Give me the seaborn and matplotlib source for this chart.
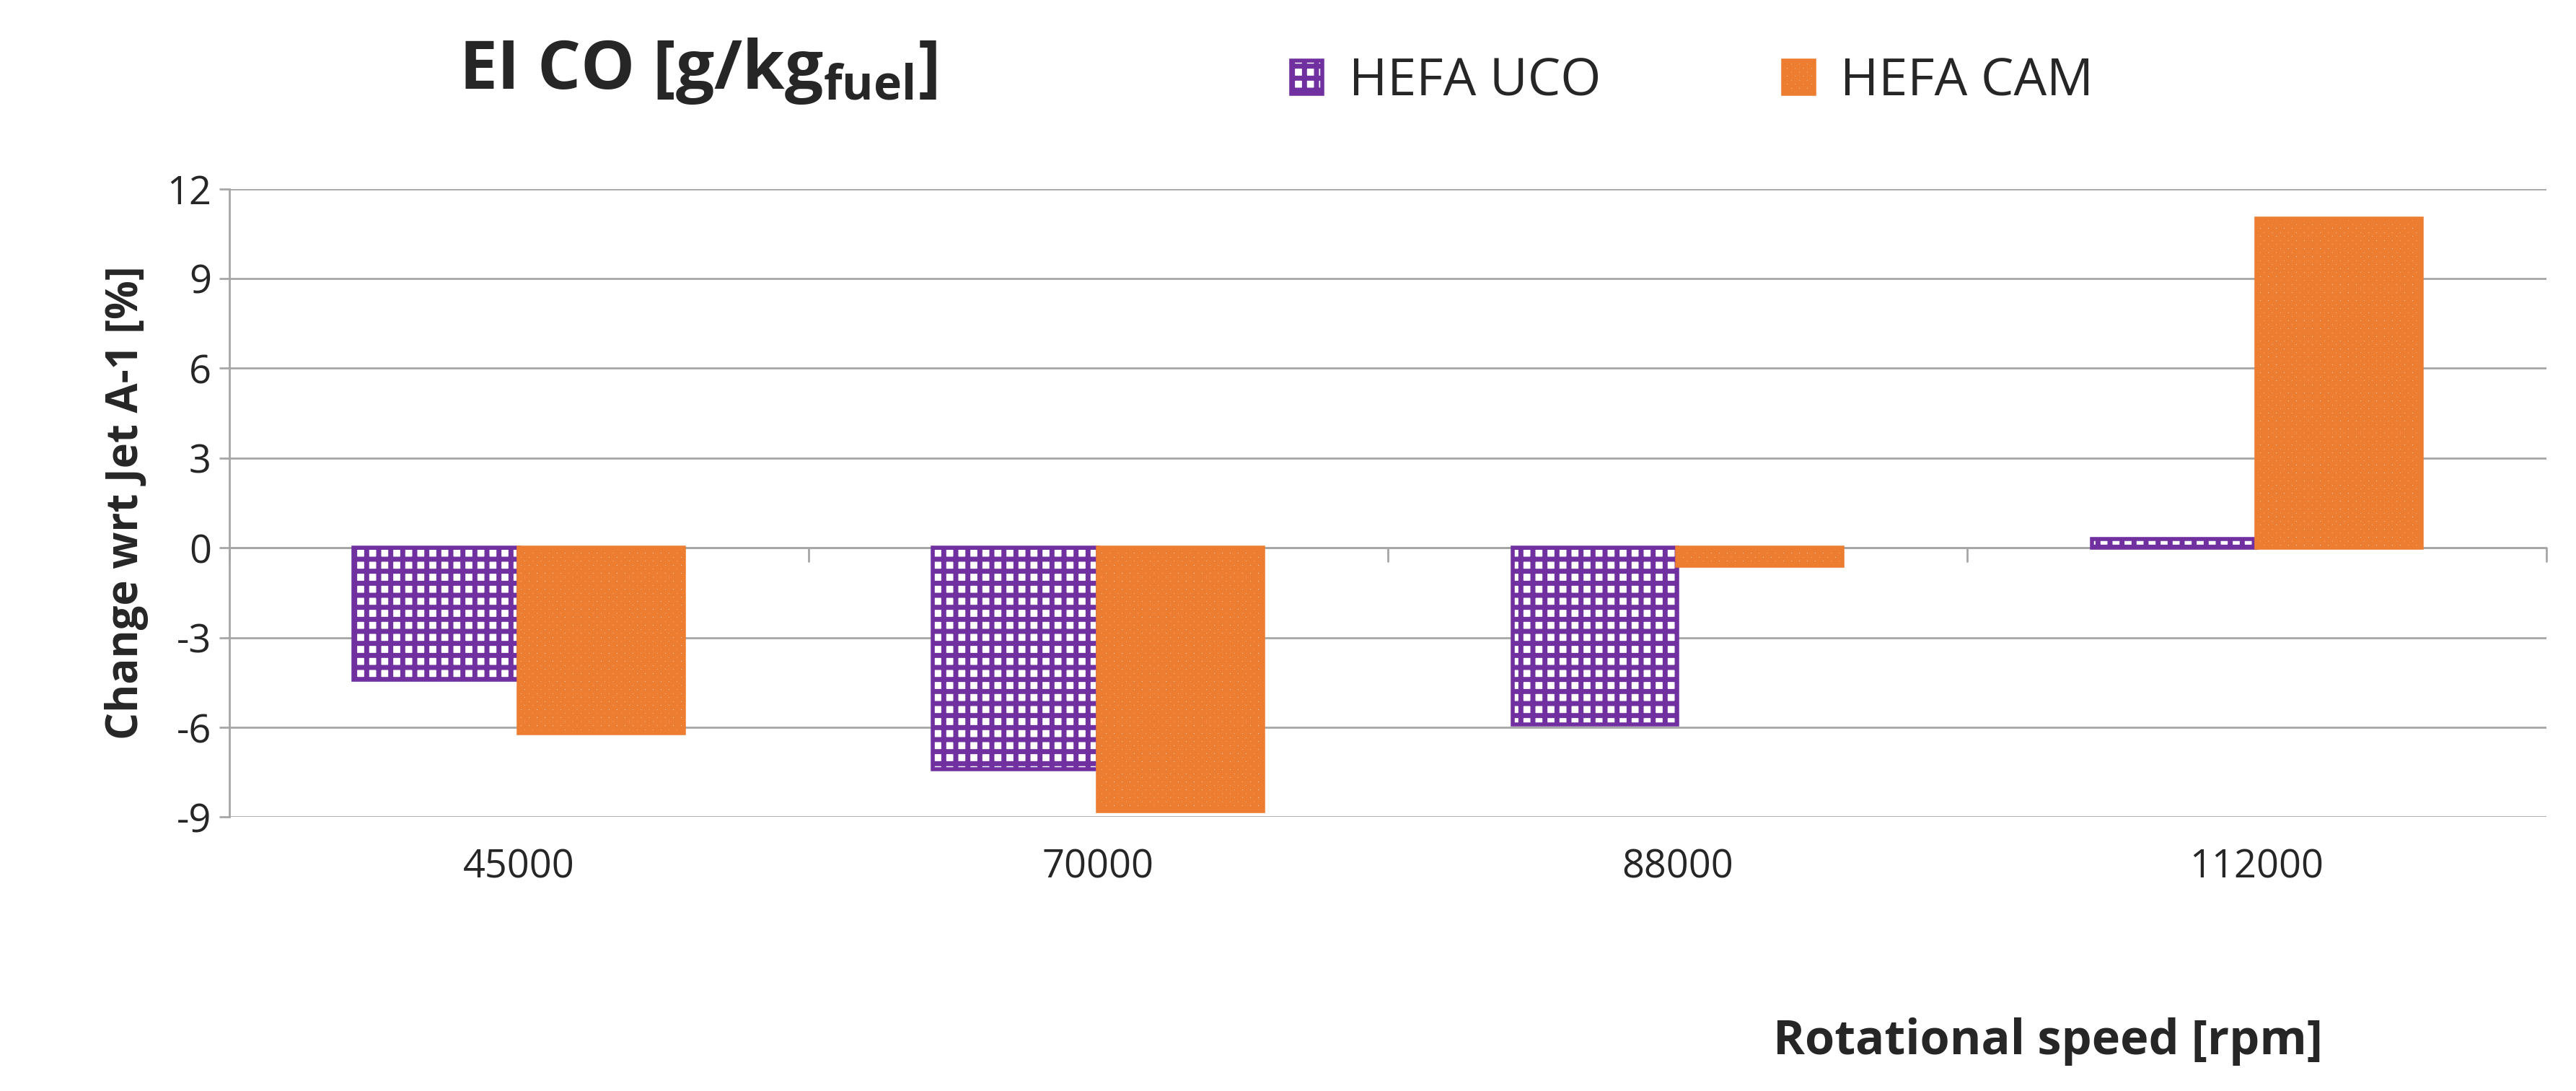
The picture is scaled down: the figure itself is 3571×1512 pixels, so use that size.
import matplotlib
matplotlib.use("Agg")
import matplotlib.pyplot as plt
import seaborn as sns
import pandas as pd
from matplotlib.patches import Patch

categories = ["45000", "70000", "88000", "112000"]
series = ["HEFA UCO", "HEFA CAM"]
uco = [-4.4, -7.4, -5.9, 0.3]
cam = [-6.2, -8.8, -0.6, 11.0]
yticks = [-9, -6, -3, 0, 3, 6, 9, 12]

df = pd.DataFrame({
    "cat": categories * 2,
    "fuel": [series[0]] * 4 + [series[1]] * 4,
    "val": uco + cam,
})

sns.set_theme(style="white")
plt.rcParams['font.family'] = ['Open Sans', 'DejaVu Sans']
plt.rcParams['hatch.linewidth'] = 5

purple = "#7030A0"
orange = "#ED7D31"

fig = plt.figure(figsize=(35.71, 15.12), dpi=100)
ax = fig.add_axes([0.089, 0.251, 0.8995, 0.576])

sns.barplot(data=df, x="cat", y="val", hue="fuel", order=categories,
            hue_order=series, width=0.57, gap=0, ax=ax, legend=False,
            palette=["white", "white"], saturation=1)

n = len(categories)
for i, p in enumerate(ax.patches[:2 * n]):
    if i < n:
        p.set_facecolor("white"); p.set_edgecolor(purple); p.set_hatch("+"); p.set_linewidth(4)
    else:
        p.set_facecolor("white"); p.set_edgecolor(orange); p.set_hatch("xxx"); p.set_linewidth(4)

ax.set_ylim(-9, 12)
ax.set_xlim(-0.5, n - 0.5)
ax.set_yticks(yticks)
ax.set_yticklabels([str(t) for t in yticks], fontsize=39)
ax.yaxis.grid(True, color="#A6A6A6", linewidth=2)
ax.set_axisbelow(True)
for s in ["top", "right", "bottom"]:
    ax.spines[s].set_visible(False)
ax.spines["left"].set_color("#A6A6A6")
ax.spines["left"].set_linewidth(2)
ax.tick_params(axis="y", length=10, color="#A6A6A6", width=2, pad=8, left=True)
ax.tick_params(axis="x", length=0, pad=30, labelsize=39)
ax.axhline(0, color="#A6A6A6", linewidth=2, zorder=0.5)
for b in range(n + 1):
    ax.plot([b - 0.5, b - 0.5], [0, -0.45], color="#A6A6A6", linewidth=2, clip_on=False, zorder=0.5)

ax.set_xlabel("")
ax.set_ylabel("Change wrt Jet A-1 [%]", fontsize=43, fontweight="bold", labelpad=18)

fig.text(0.178, 0.935, r"EI CO [g/kg$_{\mathregular{fuel}}$]", fontsize=68, fontweight="bold",
         ha="left", va="center")
fig.text(0.795, 0.045, "Rotational speed [rpm]", fontsize=48, fontweight="bold",
         ha="center", va="center")

handles = [Patch(facecolor="white", edgecolor=purple, hatch="+", linewidth=4),
           Patch(facecolor="white", edgecolor=orange, hatch="xxx", linewidth=4)]
fig.legend(handles, series, loc="center", bbox_to_anchor=(0.657, 0.925), ncol=2,
           frameon=False, fontsize=52, handlelength=0.6, handleheight=0.6,
           columnspacing=3.5, handletextpad=0.5)

fig.savefig("out.png", dpi=100)
